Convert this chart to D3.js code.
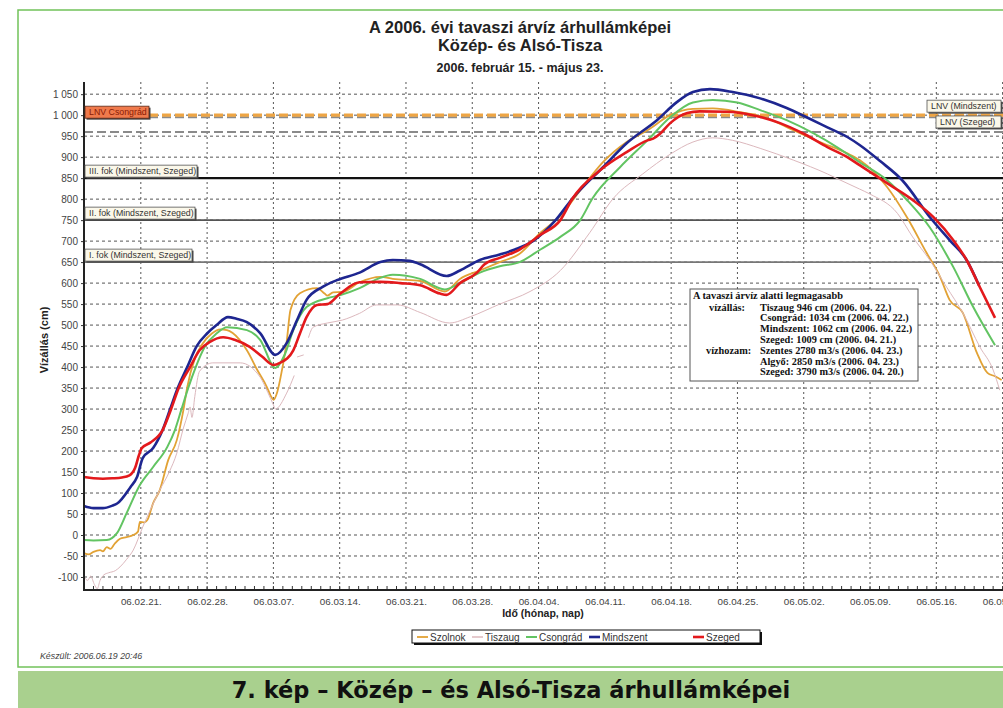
<!DOCTYPE html>
<html>
<head>
<meta charset="utf-8">
<script src="https://cdn.jsdelivr.net/npm/d3@7"></script>
<style>
  body { margin: 0; background: #fff; }
  svg { display: block; }
</style>
</head>
<body>
<svg id="chart" width="1003" height="708" style="font-family: 'Liberation Sans', Arial, sans-serif"></svg>
<script>
// day offsets from 2006-02-15, water level in cm
const startDate = Date.UTC(2006, 1, 15);
const endDay = 97;

const szolnok = [[0,-43],[0.5,-46],[1,-40],[1.7,-36],[2,-39],[2.4,-29],[2.8,-33],[3.2,-22],[3.8,-9],[4.5,-5],[5.2,0],[5.7,8],[5.9,31],[6.4,30],[6.7,36],[7.3,76],[8,107],[8.9,179],[9.8,226],[10.5,298],[10.9,352],[11.7,420],[12.5,455],[13.5,480],[14.4,490],[15.1,488],[15.7,481],[17.2,440],[18.3,393],[19.3,353],[19.8,328],[20,322],[20.4,340],[20.7,369],[21.4,460],[21.8,536],[22.8,576],[24.6,588],[25.4,575],[25.7,570],[26.3,578],[27.3,579],[29.1,602],[31.3,615],[32.6,610],[35.5,605],[38.1,580],[39.7,610],[41.8,630],[43.9,650],[46,670],[48.2,720],[50.3,760],[52.4,821],[54.8,888],[57.3,936],[59.5,964],[61.9,1000],[64.3,1015],[66.4,1016],[69.3,1007],[72.1,993],[74.9,964],[77.7,936],[80.6,909],[81.9,893],[84.8,829],[86.9,757],[89,671],[90.4,615],[91.4,560],[92.8,529],[94.3,433],[95.4,386],[96.2,378],[96.9,369]];

const tiszaug = [[0,-100],[0.4,-108],[0.7,-98],[1.1,-118],[1.4,-128],[1.7,-108],[2.1,-95],[2.6,-90],[3.3,-85],[3.8,-76],[4.5,-58],[5.2,-36],[6.2,19],[7,60],[8,107],[9,150],[9.8,195],[10.5,255],[11,290],[11.2,305],[11.4,280],[11.7,330],[12.2,390],[13.6,410],[16.5,410],[18.6,376],[19.4,340],[20,310],[20.2,300],[21.4,338],[22.2,380],[22.3,null],[22.5,424],[23.2,429],[23.4,null],[23.7,470],[24.2,495],[25.7,505],[27.3,512],[29.1,528],[30.9,548],[33.1,548],[35.5,530],[38.6,505],[40.8,520],[43.9,550],[47.1,580],[50.3,630],[53.4,720],[55.9,802],[59,860],[61.9,907],[64.3,936],[66.4,946],[68.5,940],[71.4,921],[74.9,893],[78.5,860],[79.8,846],[81.9,824],[83,812],[85.9,766],[87.5,710],[89.3,655],[91.1,590],[92.8,529],[94.6,448],[96,393],[96.7,345]];

const csongrad = [[0,-12],[1,-13],[2.4,-12],[3.5,5],[4.5,52],[5.9,119],[7.3,162],[8.8,210],[9.6,250],[10.3,300],[11,350],[11.8,400],[12.8,450],[14,480],[15.1,495],[17.2,488],[18.6,465],[20.2,398],[21.2,430],[22.1,488],[23.5,543],[25.7,564],[27,571],[29.1,588],[31,610],[32.6,620],[35.5,610],[38.1,585],[39.7,600],[41.8,625],[43.9,640],[46,650],[48.2,680],[50.3,710],[52.4,750],[53.7,802],[56.6,876],[59.5,940],[61.9,995],[64.3,1030],[66.4,1036],[69,1030],[71.4,1012],[74.2,988],[77,957],[79.5,924],[81.9,888],[84.8,845],[86.9,798],[89.3,733],[91.8,638],[93.9,543],[96.2,452]];

const mindszent = [[0,69],[1,64],[2,64],[3,70],[3.5,75],[4.9,114],[5.6,138],[6.2,183],[7.3,207],[8.3,250],[9.1,300],[9.9,350],[10.9,400],[11.9,450],[13,480],[14,500],[15.2,519],[16.1,515],[17.2,507],[18.6,481],[20.2,429],[21.4,457],[22.5,512],[23.5,560],[25.2,591],[26.7,607],[29.1,625],[31.3,650],[32.6,655],[34.4,653],[35.5,645],[38.3,617],[39.7,630],[41.8,655],[43.9,668],[45.5,680],[47.4,700],[49.8,750],[51.6,802],[54.8,876],[57.3,933],[60.5,988],[62.6,1031],[64.3,1055],[66.1,1062],[68.5,1055],[71.4,1040],[74.2,1017],[76.3,995],[78.5,971],[80.6,948],[81.9,929],[84.1,890],[86.4,845],[89.5,752],[91.5,700],[93.2,655],[94.5,595]];

const szeged = [[0,138],[1,135],[2,134],[3,135],[4,137],[4.8,142],[5.4,160],[5.8,190],[6.1,207],[7,220],[8.3,250],[9.2,300],[10,350],[11.2,400],[12.2,440],[13.3,460],[14.7,471],[15.9,465],[17.5,448],[18.8,425],[20,405],[20.7,410],[22.1,440],[22.8,480],[23.5,519],[24.6,548],[25.7,550],[27,574],[29.1,602],[31.3,603],[33.4,600],[35.5,595],[37.6,575],[38.3,572],[39.7,600],[41.5,625],[42.3,645],[43.9,660],[46,680],[48.2,715],[50.3,750],[51.6,802],[54.5,869],[57.3,912],[59.5,940],[60.1,944],[60.8,955],[61.9,981],[63.7,1005],[65,1009],[67.9,1008],[70.6,1000],[73.5,981],[75.9,957],[78.5,924],[80.6,900],[81.9,881],[84.8,838],[87.5,798],[89.7,757],[91.8,702],[93.2,655],[94.6,590],[96.2,517]];

const seriesNames = ['Szolnok', 'Tiszaug', 'Csongrád', 'Mindszent', 'Szeged'];
const seriesData = [szolnok, tiszaug, csongrad, mindszent, szeged];
const seriesColors = ['#e2a235', '#dcb8bd', '#62c462', '#1e2690', '#e3191c'];
const seriesWidths = [1.8, 1, 2, 2.6, 2.6];

const yTicks = d3.range(-100, 1051, 50);
const weekDays = d3.range(6, endDay + 1, 7); // 02.21., 02.28., ... 05.23.
const lnvLines = [
  { value: 1000, color: '#eea544', width: 3.2 },
  { value: 995, color: '#8a8a8a', width: 2 },
  { value: 960, color: '#8a8a8a', width: 2 }
];
const fokValues = [850, 750, 650];
const fokLabels = ['III. fok (Mindszent, Szeged)', 'II. fok (Mindszent, Szeged)', 'I. fok (Mindszent, Szeged)'];
const fokColors = ['#111', '#555', '#777'];
const fokWidths = [2.4, 1.6, 1.6];

const infoTitle = 'A tavaszi árvíz alatti legmagasabb';
const infoGroups = ['vízállás:', 'vízhozam:'];
const infoRows = [
  'Tiszaug 946 cm (2006. 04. 22.)',
  'Csongrád: 1034 cm (2006. 04. 22.)',
  'Mindszent: 1062 cm (2006. 04. 22.)',
  'Szeged: 1009 cm (2006. 04. 21.)',
  'Szentes 2780 m3/s (2006. 04. 23.)',
  'Algyő: 2850 m3/s (2006. 04. 23.)',
  'Szeged: 3790 m3/s (2006. 04. 20.)'
];

const svg = d3.select('#chart');
const toDate = d => new Date(startDate + d * 864e5);
const weekTicks = weekDays.map(toDate);

const x = d3.scaleUtc()
  .domain([toDate(0), toDate(endDay)])
  .range([84, 1002.6]);
const y = d3.scaleLinear()
  .domain([-131, 1079])
  .range([590, 82]);

// page frame + caption band
svg.append('rect')
  .attr('x', 18).attr('y', 10).attr('width', 990).attr('height', 657)
  .attr('fill', '#fff').attr('stroke', '#72c25a').attr('stroke-width', 1.5);
svg.append('rect')
  .attr('x', 18).attr('y', 671).attr('width', 990).attr('height', 40)
  .attr('fill', '#a9d08e');
svg.append('text')
  .attr('x', 511).attr('y', 698)
  .attr('text-anchor', 'middle')
  .style('font-family', '"DejaVu Sans", Verdana, sans-serif')
  .style('font-weight', 'bold').style('font-size', '22.5px').attr('fill', '#111')
  .text('7. kép – Közép – és Alsó-Tisza árhullámképei');

// titles
svg.append('text').attr('x', 520).attr('y', 33).attr('text-anchor', 'middle')
  .style('font-weight', 'bold').style('font-size', '16.5px').attr('fill', '#222')
  .text('A 2006. évi tavaszi árvíz árhullámképei');
svg.append('text').attr('x', 520).attr('y', 51).attr('text-anchor', 'middle')
  .style('font-weight', 'bold').style('font-size', '16.5px').attr('fill', '#222')
  .text('Közép- és Alsó-Tisza');
svg.append('text').attr('x', 520).attr('y', 72).attr('text-anchor', 'middle')
  .style('font-weight', 'bold').style('font-size', '12.5px').attr('fill', '#222')
  .text('2006. február 15. - május 23.');

const plot = svg.append('g');

// grid
plot.append('g')
  .selectAll('line')
  .data(yTicks)
  .join('line')
  .attr('x1', 84).attr('x2', 1003)
  .attr('y1', d => y(d)).attr('y2', d => y(d))
  .attr('stroke', '#555').attr('stroke-width', 1).attr('stroke-dasharray', '3,3');
plot.append('g')
  .selectAll('line')
  .data(weekTicks)
  .join('line')
  .attr('x1', d => x(d)).attr('x2', d => x(d))
  .attr('y1', 82).attr('y2', 590)
  .attr('stroke', '#555').attr('stroke-width', 1).attr('stroke-dasharray', '2,3');

// alarm levels
plot.append('g')
  .selectAll('line')
  .data(fokValues)
  .join('line')
  .attr('x1', 84).attr('x2', 1003)
  .attr('y1', d => y(d)).attr('y2', d => y(d))
  .attr('stroke', (d, i) => fokColors[i]).attr('stroke-width', (d, i) => fokWidths[i]);

plot.append('g')
  .selectAll('line')
  .data(lnvLines.slice().reverse())
  .join('line')
  .attr('x1', 84).attr('x2', 1003)
  .attr('y1', d => y(d.value)).attr('y2', d => y(d.value))
  .attr('stroke', d => d.color).attr('stroke-width', d => d.width)
  .attr('stroke-dasharray', '9,4');

// series
const line = d3.line()
  .defined(d => d[1] != null)
  .x(d => x(toDate(d[0])))
  .y(d => y(d[1]))
  .curve(d3.curveMonotoneX);

plot.append('g')
  .selectAll('path')
  .data(seriesData)
  .join('path')
  .attr('d', line)
  .attr('fill', 'none')
  .attr('stroke', (d, i) => seriesColors[i])
  .attr('stroke-width', (d, i) => seriesWidths[i])
  .attr('stroke-linejoin', 'round');

// axes
const fmtY = d => (d < 0 ? '-' : '') + d3.format(',')(Math.abs(d)).replace(',', ' ');
const yAxis = plot.append('g')
  .attr('transform', 'translate(84,0)')
  .call(d3.axisLeft(y).tickValues(yTicks).tickSize(3).tickPadding(3).tickFormat(fmtY));
yAxis.attr('font-family', null);
yAxis.select('.domain').remove();
yAxis.selectAll('text').style('font-size', '10px').attr('fill', '#444');
yAxis.selectAll('line').attr('stroke', '#333');

const xAxis = plot.append('g')
  .attr('transform', 'translate(0,590)')
  .call(d3.axisBottom(x).tickValues(weekTicks).tickSize(0).tickPadding(8).tickFormat(d3.utcFormat('%y.%m.%d.')));
xAxis.attr('font-family', null);
xAxis.select('.domain').remove();
xAxis.selectAll('text').style('font-size', '9.8px').attr('fill', '#444');

plot.append('g')
  .selectAll('line')
  .data(d3.range(1, endDay + 1))
  .join('line')
  .attr('x1', d => x(toDate(d))).attr('x2', d => x(toDate(d)))
  .attr('y1', 590).attr('y2', 586)
  .attr('stroke', '#333').attr('stroke-width', 1);

plot.append('line').attr('x1', 84).attr('x2', 84).attr('y1', 82).attr('y2', 591)
  .attr('stroke', '#222').attr('stroke-width', 2);
plot.append('line').attr('x1', 83).attr('x2', 1003).attr('y1', 590).attr('y2', 590)
  .attr('stroke', '#222').attr('stroke-width', 2);

svg.append('text')
  .attr('transform', 'translate(48,340) rotate(-90)')
  .attr('text-anchor', 'middle')
  .style('font-weight', 'bold').style('font-size', '11px').attr('fill', '#222')
  .text('Vízállás (cm)');
svg.append('text')
  .attr('x', 543).attr('y', 617).attr('text-anchor', 'middle')
  .style('font-weight', 'bold').style('font-size', '10.5px').attr('fill', '#222')
  .text('Idő (hónap, nap)');

// label boxes
function labelBox(x0, yBottom, w, text, fill, textColor, stroke) {
  const g = svg.append('g');
  g.append('rect').attr('x', x0 + 1.5).attr('y', yBottom - 12 + 1.5).attr('width', w).attr('height', 12)
    .attr('fill', '#444');
  g.append('rect').attr('x', x0).attr('y', yBottom - 12).attr('width', w).attr('height', 12)
    .attr('fill', fill).attr('stroke', stroke).attr('stroke-width', 0.8);
  g.append('text').attr('x', x0 + 4).attr('y', yBottom - 3)
    .style('font-size', '8.8px').attr('fill', textColor).text(text);
}
labelBox(85, y(1000) + 3, 64, 'LNV Csongrád', '#f07a4c', '#8a1a05', '#5a2a1a');
fokValues.forEach((v, i) => labelBox(85, y(v) - 1, [112, 110, 107][i], fokLabels[i], '#fbf8ea', '#333', '#555'));
labelBox(927, y(1000) - 3, 74, 'LNV (Mindszent)', '#fbf8ea', '#333', '#555');
labelBox(936, y(960) - 4, 65, 'LNV (Szeged)', '#fbf8ea', '#333', '#555');

// info box
const serif = '"Liberation Serif", "Times New Roman", serif';
const info = svg.append('g');
info.append('rect').attr('x', 690).attr('y', 289).attr('width', 228).attr('height', 92)
  .attr('fill', '#fff').attr('stroke', '#555').attr('stroke-width', 1);
const infoText = (tx, ty, s) => info.append('text').attr('x', tx).attr('y', ty)
  .style('font-family', serif).style('font-weight', 'bold').style('font-size', '10.3px')
  .attr('fill', '#111').text(s);
infoText(693, 299, infoTitle);
infoText(709, 310.5, infoGroups[0]);
infoText(706, 310.5 + 4 * 10.8, infoGroups[1]);
infoRows.forEach((s, i) => infoText(760, 310.5 + i * 10.8, s));

// legend
const legend = svg.append('g');
legend.append('rect').attr('x', 414).attr('y', 632).attr('width', 348).attr('height', 13).attr('fill', '#111');
legend.append('rect').attr('x', 412).attr('y', 630).attr('width', 348).attr('height', 13)
  .attr('fill', '#fff').attr('stroke', '#111').attr('stroke-width', 1);
const legendX = [417, 472, 526, 589, 693];
seriesNames.forEach((name, i) => {
  legend.append('line').attr('x1', legendX[i]).attr('x2', legendX[i] + 11)
    .attr('y1', 637).attr('y2', 637)
    .attr('stroke', seriesColors[i]).attr('stroke-width', Math.max(1.5, seriesWidths[i]));
  legend.append('text').attr('x', legendX[i] + 13).attr('y', 640.8)
    .style('font-size', '10px').attr('fill', '#333').text(name);
});

svg.append('text').attr('x', 40).attr('y', 659)
  .style('font-style', 'italic').style('font-size', '8.8px').attr('fill', '#444')
  .text('Készült: 2006.06.19 20:46');
</script>
</body>
</html>
